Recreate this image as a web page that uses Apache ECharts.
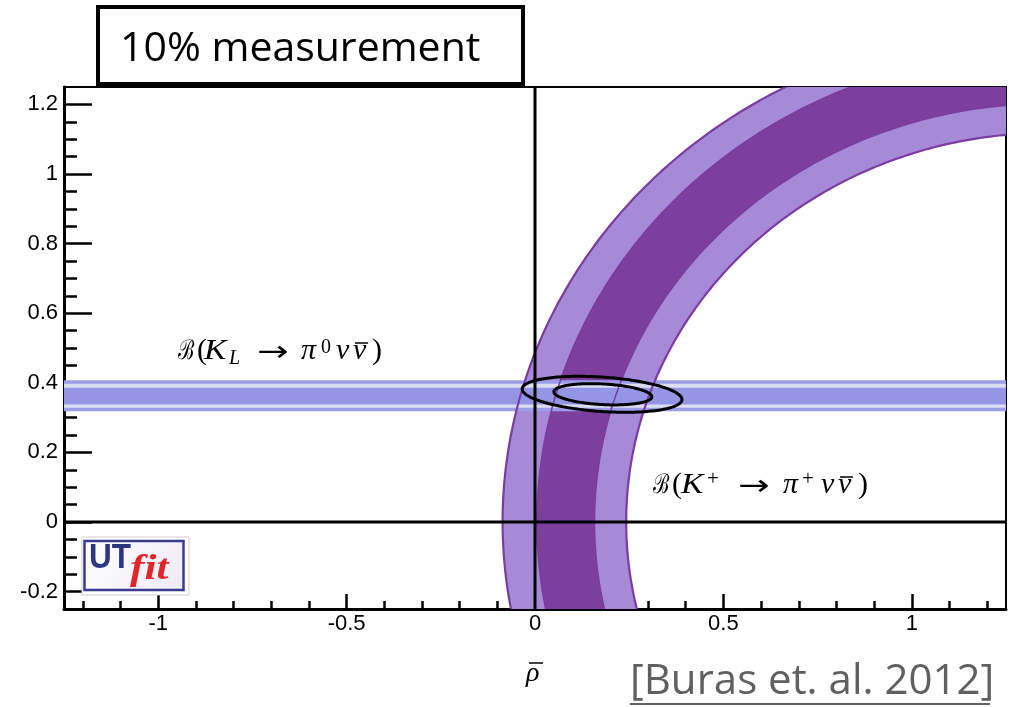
<!DOCTYPE html>
<html>
<head>
<meta charset="utf-8">
<script src="https://cdn.jsdelivr.net/npm/echarts@6/dist/echarts.min.js"></script>
<style>
  html, body { margin: 0; padding: 0; background: #fff; }
  #chart { width: 1009px; height: 707px; }
</style>
</head>
<body>
<div id="chart"></div>
<script>
// Axis ranges and tick positions (rho-bar horizontally, eta-bar vertically)
const rhoRange = [-1.25, 1.25];
const etaRange = [-0.25, 1.25];
const rhoMajorTicks = [-1, -0.5, 0, 0.5, 1];
const rhoMinorTicks = [-1.2, -1.1, -0.9, -0.8, -0.7, -0.6, -0.4, -0.3, -0.2, -0.1,
                       0.1, 0.2, 0.3, 0.4, 0.6, 0.7, 0.8, 0.9, 1.1, 1.2];
const etaMajorTicks = [-0.2, 0, 0.2, 0.4, 0.6, 0.8, 1, 1.2];
const etaMinorTicks = [-0.15, -0.1, -0.05, 0.05, 0.1, 0.15, 0.25, 0.3, 0.35, 0.45, 0.5, 0.55,
                       0.65, 0.7, 0.75, 0.85, 0.9, 0.95, 1.05, 1.1, 1.15];

// K+ -> pi+ nu nubar constraint: circular contours centred on the rho axis
const kPlusContours = ['95% outer', '68% outer', '68% inner', '95% inner'];
const kPlusCentreRho = [1.33, 1.36, 1.36, 1.36];
const kPlusRadius = [1.416, 1.355, 1.202, 1.118];
// annuli to fill: [outer contour, inner contour]
const kPlusFills = [[0, 3], [1, 2]];

// K_L -> pi0 nu nubar constraint: horizontal band in eta
const kLongBand95 = [0.323, 0.402];
const kLongBand68 = [0.338, 0.386];

// combined fit: tilted ellipses (centre, semi-axes, shear d(eta)/d(rho))
const fitContours = ['95%', '68%'];
const fitCentreRho = [0.178, 0.180];
const fitCentreEta = [0.367, 0.367];
const fitSemiRho = [0.212, 0.130];
const fitSemiEta = [0.0495, 0.0297];
const fitShear = [-0.071, -0.055];

const COLORS = {
  ring95: '#a68ad8',
  ring68: '#7c3f9e',
  ringEdge: '#7a3ca0',
  band95: '#dcdcf0',
  band68: '#9595e5',
  bandEdge: '#9d9de9'
};

function arcPoints(api, c, r, from, to, steps) {
  const pts = [];
  for (let i = 0; i <= steps; i++) {
    const t = from + (to - from) * i / steps;
    pts.push(api.coord([c + r * Math.cos(t), r * Math.sin(t)]));
  }
  return pts;
}

// --- small typesetting helper for the formula labels ---
const measureCtx = document.createElement('canvas').getContext('2d');
function baselineShift(style, size, family) {
  // distance from the canvas 'middle' line down to the alphabetic baseline
  measureCtx.font = style + ' ' + size + 'px ' + family;
  measureCtx.textBaseline = 'alphabetic';
  const a1 = measureCtx.measureText('H').actualBoundingBoxAscent;
  measureCtx.textBaseline = 'middle';
  const a2 = measureCtx.measureText('H').actualBoundingBoxAscent;
  return a1 - a2;
}
function formula(x0, baseline, pieces) {
  const els = [];
  pieces.forEach(p => {
    const style = p.italic ? 'italic' : 'normal';
    const shift = baselineShift(style, p.size, p.family);
    els.push({
      type: 'text', z: 101, x: x0 + p.dx, y: baseline + (p.dy || 0) - shift, scaleX: p.sx || 1,
      style: { text: p.t, fontSize: p.size, fontFamily: p.family, fontStyle: style, fill: '#000',
               verticalAlign: 'middle', textVerticalAlign: 'middle' }
    });
    if (p.bar) {
      els.push({
        type: 'line', z: 101,
        shape: { x1: x0 + p.dx + p.bar[0], y1: baseline - p.bar[2], x2: x0 + p.dx + p.bar[1], y2: baseline - p.bar[2] },
        style: { stroke: '#000', lineWidth: 1.5 }
      });
    }
  });
  return els;
}
const SERIF = 'Liberation Serif';
const CAL = '"DejaVu Serif"';
const ARROW = '"DejaVu Sans"';

const kLongLabel = formula(178, 359, [
  { t: 'ℬ', dx: 0, size: 27, family: CAL, sx: 0.72 },
  { t: '(', dx: 19, size: 30, family: SERIF },
  { t: 'K', dx: 26, size: 30, family: SERIF, italic: true, sx: 1.12 },
  { t: 'L', dx: 51, size: 20, family: SERIF, italic: true, dy: 5 },
  { t: '→', dx: 79, size: 29, family: ARROW, dy: 2, sx: 1.3 },
  { t: 'π', dx: 123, size: 30, family: SERIF, italic: true },
  { t: '0', dx: 143, size: 20, family: SERIF, dy: -6 },
  { t: 'ν', dx: 158, size: 30, family: SERIF, italic: true },
  { t: 'ν', dx: 175, size: 30, family: SERIF, italic: true, bar: [2, 15, 16] },
  { t: ')', dx: 194, size: 30, family: SERIF }
]);
const kPlusLabel = formula(653, 493, [
  { t: 'ℬ', dx: 0, size: 27, family: CAL, sx: 0.72 },
  { t: '(', dx: 19, size: 30, family: SERIF },
  { t: 'K', dx: 28, size: 30, family: SERIF, italic: true, sx: 1.12 },
  { t: '+', dx: 54, size: 21, family: SERIF, dy: -8 },
  { t: '→', dx: 85, size: 29, family: ARROW, dy: 2, sx: 1.3 },
  { t: 'π', dx: 130, size: 30, family: SERIF, italic: true },
  { t: '+', dx: 149, size: 21, family: SERIF, dy: -8 },
  { t: 'ν', dx: 168, size: 30, family: SERIF, italic: true },
  { t: 'ν', dx: 185, size: 30, family: SERIF, italic: true, bar: [2, 15, 16] },
  { t: ')', dx: 205, size: 30, family: SERIF }
]);
const rhoTitle = formula(526, 681, [
  { t: 'ρ', dx: 0, size: 28, family: SERIF, italic: true, bar: [3, 17, 18] }
]);

const chart = echarts.init(document.getElementById('chart'));

const tickLabel = { color: '#000', fontSize: 22, fontFamily: 'Liberation Sans' };
const tickLine = { color: '#000', width: 2.5 };

const option = {
  animation: false,
  backgroundColor: '#fff',
  grid: { left: 64, right: 3, top: 87, bottom: 98, show: true, borderColor: '#000', borderWidth: 2, backgroundColor: 'transparent' },
  xAxis: [
    {
      type: 'value', min: rhoRange[0], max: rhoRange[1], position: 'bottom',
      axisLine: { show: true, onZero: false, lineStyle: { color: '#000', width: 3 } },
      axisTick: { show: true, inside: true, length: 15, customValues: rhoMajorTicks, lineStyle: tickLine },
      axisLabel: Object.assign({ customValues: rhoMajorTicks, margin: 4 }, tickLabel),
      splitLine: { show: false }
    },
    {
      type: 'value', min: rhoRange[0], max: rhoRange[1], position: 'bottom',
      axisLine: { show: false, onZero: false },
      axisTick: { show: true, inside: true, length: 8, customValues: rhoMinorTicks, lineStyle: tickLine },
      axisLabel: { show: false },
      splitLine: { show: false }
    }
  ],
  yAxis: [
    {
      type: 'value', min: etaRange[0], max: etaRange[1], position: 'left',
      axisLine: { show: true, onZero: false, lineStyle: { color: '#000', width: 3 } },
      axisTick: { show: true, inside: true, length: 28, customValues: etaMajorTicks, lineStyle: tickLine },
      axisLabel: Object.assign({ customValues: etaMajorTicks, margin: 6 }, tickLabel),
      splitLine: { show: false }
    },
    {
      type: 'value', min: etaRange[0], max: etaRange[1], position: 'left',
      axisLine: { show: false, onZero: false },
      axisTick: { show: true, inside: true, length: 13, customValues: etaMinorTicks, lineStyle: tickLine },
      axisLabel: { show: false },
      splitLine: { show: false }
    }
  ],
  series: [
    {
      // K+ annuli (95% light, 68% dark)
      type: 'custom', name: 'K+ fill', coordinateSystem: 'cartesian2d', clip: true, z: 1,
      data: kPlusFills,
      renderItem(params, api) {
        const [o, i] = kPlusFills[params.dataIndex];
        const outer = arcPoints(api, kPlusCentreRho[o], kPlusRadius[o], Math.PI / 2, 3 * Math.PI / 2, 300);
        const inner = arcPoints(api, kPlusCentreRho[i], kPlusRadius[i], 3 * Math.PI / 2, Math.PI / 2, 300);
        return {
          type: 'polygon',
          shape: { points: outer.concat(inner) },
          style: { fill: params.dataIndex === 0 ? COLORS.ring95 : COLORS.ring68 }
        };
      }
    },
    {
      // K_L band
      type: 'custom', name: 'KL band', coordinateSystem: 'cartesian2d', clip: true, z: 2,
      data: [kLongBand95],
      renderItem(params, api) {
        const a = api.coord([rhoRange[0], kLongBand95[1]]);
        const b = api.coord([rhoRange[1], kLongBand95[0]]);
        const c = api.coord([rhoRange[0], kLongBand68[1]]);
        const d = api.coord([rhoRange[1], kLongBand68[0]]);
        return {
          type: 'group',
          children: [
            { type: 'rect', shape: { x: a[0], y: a[1], width: b[0] - a[0], height: b[1] - a[1] }, style: { fill: COLORS.band95 } },
            { type: 'rect', shape: { x: c[0], y: c[1], width: d[0] - c[0], height: d[1] - c[1] }, style: { fill: COLORS.band68 } },
            { type: 'line', shape: { x1: a[0], y1: a[1], x2: b[0], y2: a[1] }, style: { stroke: COLORS.bandEdge, lineWidth: 3.5 } },
            { type: 'line', shape: { x1: a[0], y1: b[1], x2: b[0], y2: b[1] }, style: { stroke: COLORS.bandEdge, lineWidth: 3.5 } }
          ]
        };
      }
    },
    {
      // K+ contour outlines
      type: 'custom', name: 'K+ contours', coordinateSystem: 'cartesian2d', clip: true, z: 3,
      data: kPlusContours.map((n, k) => [kPlusCentreRho[k], 0]),
      renderItem(params, api) {
        const k = params.dataIndex;
        return {
          type: 'polyline',
          shape: { points: arcPoints(api, kPlusCentreRho[k], kPlusRadius[k], Math.PI / 2, 3 * Math.PI / 2, 300) },
          style: { stroke: COLORS.ringEdge, lineWidth: (k === 0 || k === 3) ? 2.2 : 1.5, fill: null }
        };
      }
    },
    {
      // axes through the origin
      type: 'custom', name: 'zero lines', coordinateSystem: 'cartesian2d', clip: true, z: 4,
      data: [[0, 0]],
      renderItem(params, api) {
        const v0 = api.coord([0, etaRange[0]]);
        const v1 = api.coord([0, etaRange[1]]);
        const h0 = api.coord([rhoRange[0], 0]);
        const h1 = api.coord([rhoRange[1], 0]);
        return {
          type: 'group',
          children: [
            { type: 'line', shape: { x1: v0[0], y1: v0[1], x2: v1[0], y2: v1[1] }, style: { stroke: '#000', lineWidth: 3 } },
            { type: 'line', shape: { x1: h0[0], y1: h0[1], x2: h1[0], y2: h1[1] }, style: { stroke: '#000', lineWidth: 3 } }
          ]
        };
      }
    },
    {
      // combined fit ellipses
      type: 'custom', name: 'fit', coordinateSystem: 'cartesian2d', clip: true, z: 5,
      data: fitContours.map((n, k) => [fitCentreRho[k], fitCentreEta[k]]),
      renderItem(params, api) {
        const k = params.dataIndex;
        const pts = [];
        for (let i = 0; i <= 200; i++) {
          const t = 2 * Math.PI * i / 200;
          const dr = fitSemiRho[k] * Math.cos(t);
          pts.push(api.coord([fitCentreRho[k] + dr, fitCentreEta[k] + fitSemiEta[k] * Math.sin(t) + fitShear[k] * dr]));
        }
        return { type: 'polygon', shape: { points: pts }, style: { fill: null, stroke: '#000', lineWidth: 3 } };
      }
    }
  ],
  graphic: {
    elements: [
      // title box
      { type: 'rect', z: 100, shape: { x: 98, y: 7, width: 425, height: 77 }, style: { fill: '#fff', stroke: '#000', lineWidth: 4 } },
      { type: 'text', z: 101, x: 120, y: 49,
        style: { text: '10% measurement', fontSize: 41, fontFamily: 'Open Sans', fill: '#000', verticalAlign: 'middle', textVerticalAlign: 'middle' } },
      // citation
      { type: 'text', z: 101, x: 630, y: 682,
        style: { text: '[Buras et. al. 2012]', fontSize: 42, fontFamily: 'Open Sans', fill: '#606060',
                 verticalAlign: 'middle', textVerticalAlign: 'middle' } },
      { type: 'line', z: 101, shape: { x1: 630, y1: 704, x2: 990, y2: 704 }, style: { stroke: '#606060', lineWidth: 2 } },
      // UTfit badge
      { type: 'rect', z: 100, shape: { x: 82, y: 537, width: 107, height: 58 }, style: { fill: '#fff', stroke: '#cfcfcf', lineWidth: 1 } },
      { type: 'rect', z: 101, shape: { x: 84.5, y: 541, width: 99, height: 49 },
        style: { stroke: '#3b3b8e', lineWidth: 2.5,
                 fill: new echarts.graphic.LinearGradient(0, 0, 1, 1, [{ offset: 0, color: '#ffffff' }, { offset: 1, color: '#eeeaf6' }]) } },
      { type: 'text', z: 102, x: 89, y: 558, scaleX: 0.9,
        style: { text: 'UT', fontSize: 35, fontWeight: 'bold', fontFamily: 'Liberation Sans', fill: '#2b3580',
                 verticalAlign: 'middle', textVerticalAlign: 'middle' } },
      { type: 'text', z: 102, x: 130, y: 570, scaleX: 1.2,
        style: { text: 'fit', fontSize: 36, fontWeight: 'bold', fontStyle: 'italic', fontFamily: 'Liberation Serif', fill: '#e0262b',
                 verticalAlign: 'middle', textVerticalAlign: 'middle' } }
    ].concat(kLongLabel, kPlusLabel, rhoTitle)
  }
};

chart.setOption(option);
</script>
</body>
</html>
